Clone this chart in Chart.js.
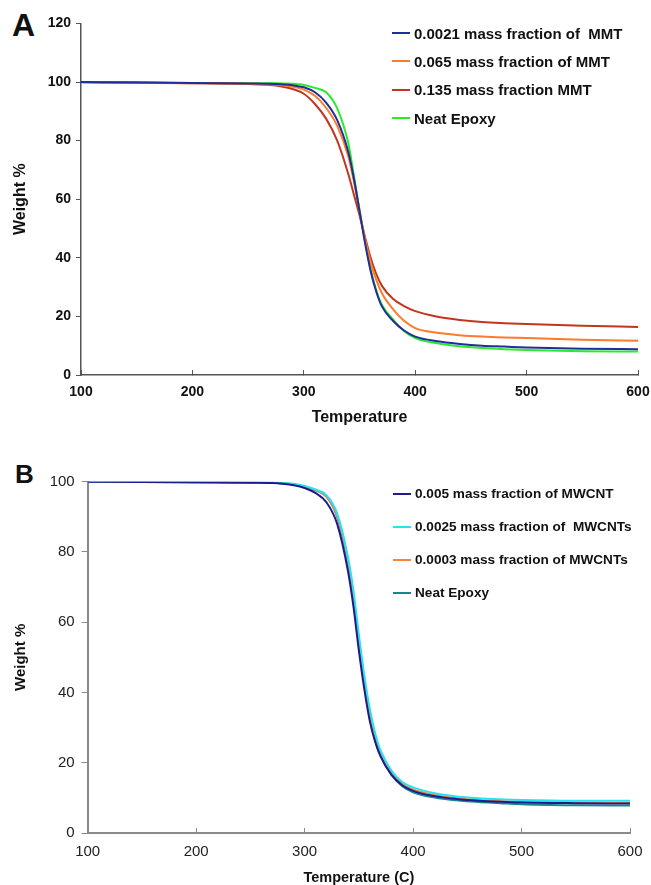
<!DOCTYPE html>
<html>
<head>
<meta charset="utf-8">
<script src="https://cdn.jsdelivr.net/npm/chart.js@4.4.1/dist/chart.umd.min.js"></script>
<style>
  html, body { margin: 0; padding: 0; background: #fff; }
  body { width: 651px; height: 885px; position: relative; overflow: hidden; font-family: "Liberation Sans", Arial, sans-serif; }
  .panel { position: absolute; left: 0; width: 651px; }
  #boxA { top: 0; height: 430px; }
  #boxB { top: 440px; height: 447px; }
  .tag { position: absolute; font-weight: bold; line-height: 1; color: #111; }
  .legend { position: absolute; font-weight: bold; color: #111; }
  .legend .row { display: flex; align-items: center; white-space: pre; }
  .legend .swatch { width: 18px; height: 2px; margin-right: 4px; }
</style>
</head>
<body>
<div class="tag" style="left:12px; top:9px; font-size:32px;">A</div>
<div class="tag" style="left:15px; top:461px; font-size:26px;">B</div>
<div class="panel" id="boxA"><canvas id="chartA"></canvas></div>
<div class="panel" id="boxB"><canvas id="chartB"></canvas></div>
<div class="legend" id="legendA" style="left:392px; top:19px; font-size:15px;"></div>
<div class="legend" id="legendB" style="left:393px; top:477px; font-size:13.6px;"></div>
<script>
// TGA curves, panel A: epoxy / MMT
var tempA = [100, 150, 200, 250, 270, 280, 290, 300, 310, 320, 330, 340, 345, 350, 355, 360, 365, 370, 380, 390, 400, 420, 440, 460, 480, 500, 550, 600];
var mmt0021 = [100, 99.8, 99.7, 99.5, 99.4, 99.2, 98.9, 98.2, 96.5, 93, 87, 76, 67, 56, 45, 35.5, 28.5, 23.5, 18.5, 15.2, 13.1, 11.5, 10.6, 10.0, 9.7, 9.4, 9.0, 8.8];
var mmt065 = [99.8, 99.7, 99.6, 99.4, 99.2, 98.9, 98.4, 97.4, 95.3, 91.2, 85, 74.5, 66, 56, 46.5, 38.5, 32.5, 28, 22.5, 18.5, 16, 14.4, 13.6, 13.1, 12.8, 12.6, 12.0, 11.7];
var mmt135 = [100, 99.8, 99.6, 99.3, 99.0, 98.5, 97.6, 96, 92.5, 87.5, 80, 68.5, 61.5, 54.5, 47, 40, 34.5, 30.5, 26, 23.5, 21.8, 19.9, 18.8, 18.1, 17.7, 17.4, 16.8, 16.4];
var neatA = [100, 99.8, 99.7, 99.6, 99.6, 99.5, 99.4, 99.0, 98, 96.5, 91, 79, 68, 56.5, 45.5, 36, 29, 24, 19, 15, 12.6, 10.8, 9.8, 9.2, 8.8, 8.5, 8.1, 8.0];
var labelsA = ['0.0021 mass fraction of  MMT', '0.065 mass fraction of MMT', '0.135 mass fraction MMT', 'Neat Epoxy'];
var colorsA = ['#1f2f9a', '#ff7a2a', '#c2361e', '#2bea2b'];
var yTicksA = [0, 20, 40, 60, 80, 100, 120];

// TGA curves, panel B: epoxy / MWCNT
var tempB = [100, 150, 200, 250, 270, 280, 290, 300, 310, 320, 330, 340, 345, 350, 355, 360, 365, 370, 380, 390, 400, 420, 440, 460, 480, 500, 550, 600];
var cnt005 = [100, 99.9, 99.8, 99.7, 99.6, 99.4, 99.0, 98.2, 96.8, 94.2, 88, 74.5, 64.5, 52, 41, 32, 26, 21.8, 16.6, 13.6, 12, 10.5, 9.7, 9.2, 8.9, 8.7, 8.5, 8.4];
var cnt0025 = [100, 99.9, 99.9, 99.8, 99.8, 99.6, 99.4, 98.8, 97.8, 96.2, 91, 78.5, 69, 56.5, 45, 35.5, 28.5, 23.5, 17.8, 14.5, 13, 11.3, 10.4, 9.9, 9.6, 9.4, 9.2, 9.2];
var cnt0003 = [100, 99.9, 99.9, 99.8, 99.7, 99.5, 99.2, 98.6, 97.6, 95.8, 90.2, 77.5, 67.5, 55, 43.5, 34, 27.5, 23, 17.4, 14, 12.4, 10.8, 9.9, 9.4, 9.1, 8.9, 8.7, 8.6];
var neatB = [100, 99.9, 99.9, 99.8, 99.7, 99.5, 99.2, 98.6, 97.6, 95.8, 90, 77, 67, 54, 42.5, 33, 26.5, 22, 16.5, 13.3, 11.6, 10.1, 9.3, 8.8, 8.5, 8.2, 7.9, 7.8];
var labelsB = ['0.005 mass fraction of MWCNT', '0.0025 mass fraction of  MWCNTs', '0.0003 mass fraction of MWCNTs', 'Neat Epoxy'];
var colorsB = ['#1c1c8e', '#24e4ef', '#ff7f3f', '#14898c'];
var yTicksB = [0, 20, 40, 60, 80, 100];

var FONT = '"Liberation Sans", Arial, sans-serif';

function pairs(xs, ys) {
  return xs.map(function(x, i) { return { x: x, y: ys[i] }; });
}

// pin an axis box to a fixed size so the plot area lands where it should
function fixBox(size) {
  return function(scale) {
    if (scale.isHorizontal()) scale.height = size; else scale.width = size;
    scale.paddingLeft = 0; scale.paddingRight = 0;
    scale.paddingTop = 0; scale.paddingBottom = 0;
  };
}

function makeDatasets(xs, series, labels, colors) {
  return series.map(function(ys, i) {
    return {
      label: labels[i],
      data: pairs(xs, ys),
      borderColor: colors[i],
      backgroundColor: colors[i],
      borderWidth: 2,
      pointRadius: 0,
      fill: false,
      cubicInterpolationMode: 'monotone'
    };
  });
}

function buildLegend(id, labels, colors, rowHeight) {
  var box = document.getElementById(id);
  labels.forEach(function(text, i) {
    var row = document.createElement('div');
    row.className = 'row';
    row.style.height = rowHeight + 'px';
    var sw = document.createElement('span');
    sw.className = 'swatch';
    sw.style.background = colors[i];
    var t = document.createElement('span');
    t.textContent = text;
    row.appendChild(sw);
    row.appendChild(t);
    box.appendChild(row);
  });
}

function makeChart(id, opts) {
  return new Chart(document.getElementById(id), {
    type: 'line',
    data: { datasets: opts.datasets },
    options: {
      responsive: true,
      maintainAspectRatio: false,
      animation: false,
      layout: { padding: opts.padding },
      plugins: { legend: { display: false }, tooltip: { enabled: false } },
      scales: {
        x: {
          type: 'linear',
          min: 100, max: 600,
          afterFit: fixBox(opts.xHeight),
          border: { color: opts.axisColor, width: opts.axisWidth },
          grid: { drawOnChartArea: false, drawTicks: true, tickLength: -5, color: opts.axisColor, lineWidth: 1 },
          ticks: { stepSize: 100, padding: opts.xPad, color: opts.tickColor, font: opts.tickFont, maxRotation: 0 },
          title: { display: true, text: opts.xTitle, color: '#111', font: opts.xTitleFont, padding: opts.xTitlePad }
        },
        y: {
          min: 0, max: opts.yMax,
          afterFit: fixBox(opts.yWidth),
          afterBuildTicks: function(scale) {
            scale.ticks = opts.yTicks.map(function(v) { return { value: v }; });
          },
          border: { color: opts.axisColor, width: opts.axisWidth },
          grid: { drawOnChartArea: false, drawTicks: true, tickLength: opts.yTick, color: opts.axisColor, lineWidth: 1 },
          ticks: { padding: opts.yPad, color: opts.tickColor, font: opts.tickFont },
          title: { display: true, text: 'Weight %', color: '#111', font: opts.yTitleFont, padding: opts.yTitlePad }
        }
      }
    }
  });
}

makeChart('chartA', {
  datasets: makeDatasets(tempA, [mmt0021, mmt065, mmt135, neatA], labelsA, colorsA),
  padding: { top: 23.4, right: 13, left: 0, bottom: 0 },
  xHeight: 55, yWidth: 81, yMax: 120, yTicks: yTicksA,
  axisColor: '#555', axisWidth: 1.5,
  tickColor: '#111', tickFont: { family: FONT, size: 14, weight: 'bold' },
  xPad: 14, yPad: 5, yTick: 5,
  xTitle: 'Temperature', xTitleFont: { family: FONT, size: 16, weight: 'bold' }, xTitlePad: { top: 3, bottom: 3 },
  yTitleFont: { family: FONT, size: 16, weight: 'bold' }, yTitlePad: { top: 11, bottom: 11 }
});

makeChart('chartB', {
  datasets: makeDatasets(tempB, [cnt005, cnt0025, cnt0003, neatB], labelsB, colorsB),
  padding: { top: 41.7, right: 21, left: 0, bottom: 0 },
  xHeight: 54, yWidth: 87.7, yMax: 100, yTicks: yTicksB,
  axisColor: '#8a8a8a', axisWidth: 2,
  tickColor: '#222', tickFont: { family: FONT, size: 15, weight: 'normal' },
  xPad: 15, yPad: 7, yTick: 6,
  xTitle: 'Temperature (C)', xTitleFont: { family: FONT, size: 14.5, weight: 'bold' }, xTitlePad: { top: 0, bottom: 0 },
  yTitleFont: { family: FONT, size: 15, weight: 'bold' }, yTitlePad: { top: 12, bottom: 12 }
});

buildLegend('legendA', labelsA, colorsA, 28.3);
buildLegend('legendB', labelsB, colorsB, 33);
</script>
</body>
</html>
